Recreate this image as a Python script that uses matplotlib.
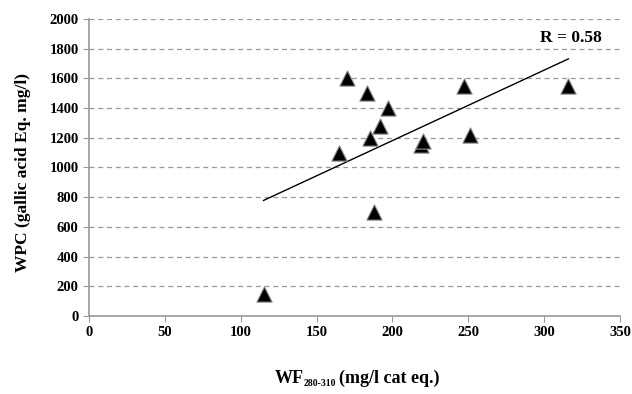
import matplotlib
matplotlib.use("Agg")
import matplotlib.pyplot as plt
import numpy as np

wf = [115, 165, 170, 183, 185, 188, 192, 197, 219, 220, 247, 251, 316]
wpc = [150, 1100, 1600, 1500, 1200, 700, 1280, 1400, 1150, 1180, 1550, 1220, 1550]
x_ticks = [0, 50, 100, 150, 200, 250, 300, 350]
y_ticks = [0, 200, 400, 600, 800, 1000, 1200, 1400, 1600, 1800, 2000]
r_label = "R = 0.58"

plt.rcParams["font.family"] = ["Liberation Serif", "DejaVu Serif"]

fig = plt.figure(figsize=(6.32, 3.94), dpi=100)
ax = fig.add_axes([0.141, 0.198, 0.840, 0.754])

ax.set_xlim(0, 350)
ax.set_ylim(0, 2000)
ax.set_xticks(x_ticks)
ax.set_yticks(y_ticks)
ax.tick_params(labelsize=10.5, length=4, color="#999999", direction="out")
for lab in ax.get_xticklabels() + ax.get_yticklabels():
    lab.set_fontweight("bold")

ax.grid(axis="y", linestyle=(0, (4, 3)), color="#999999", linewidth=0.9)
ax.set_axisbelow(True)
for side in ["top", "right"]:
    ax.spines[side].set_visible(False)
for side in ["left", "bottom"]:
    ax.spines[side].set_color("#999999")
    ax.spines[side].set_linewidth(1.2)

# linear trend line
coef = np.polyfit(wf, wpc, 1)
xs = np.array([min(wf), max(wf)])
ax.plot(xs, np.polyval(coef, xs), color="black", linewidth=1.0, zorder=3)

ax.scatter(wf, wpc, marker="^", s=120, color="black", edgecolors="#888888",
           linewidths=0.8, zorder=4)

ax.text(0.965, 0.935, r_label, transform=ax.transAxes, ha="right", va="center",
        fontsize=12.5, fontweight="bold")

fig.text(23 / 632, 1 - 172 / 394, "WPC (gallic acid Eq. mg/l)", rotation=90,
         ha="center", va="center", fontsize=12.5, fontweight="bold")

# x label built from pieces so the subscript can be small
t1 = fig.text(0.4, 0.028, "WF", ha="left", va="baseline", fontsize=13, fontweight="bold")
fig.canvas.draw()
r = fig.canvas.get_renderer()
b1 = t1.get_window_extent(r)
t2 = fig.text(b1.x1 / fig.bbox.width, 0.028 - 0.008, "280-310", ha="left", va="baseline",
              fontsize=7, fontweight="bold")
b2 = t2.get_window_extent(r)
t3 = fig.text(b2.x1 / fig.bbox.width + 0.004, 0.028, "(mg/l cat eq.)", ha="left",
              va="baseline", fontsize=13, fontweight="bold")
b3 = t3.get_window_extent(r)
total = b3.x1 - b1.x0
shift = (0.565 * fig.bbox.width - total / 2 - b1.x0) / fig.bbox.width
for t in (t1, t2, t3):
    x, y = t.get_position()
    t.set_position((x + shift, y))

fig.savefig("out.png", dpi=100)
